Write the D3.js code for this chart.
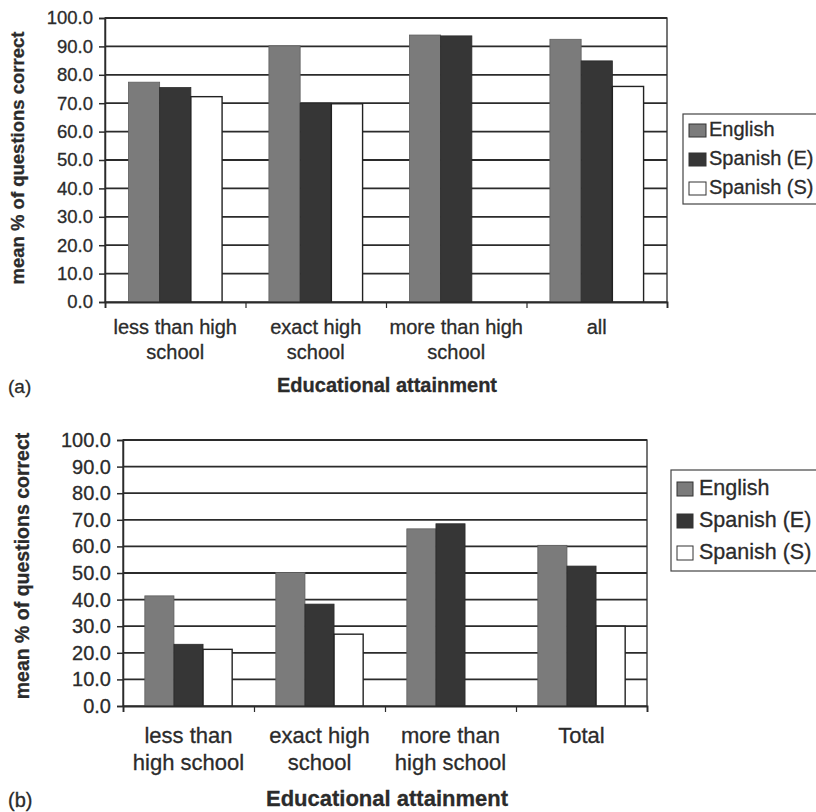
<!DOCTYPE html>
<html>
<head>
<meta charset="utf-8">
<script src="https://cdn.jsdelivr.net/npm/d3@7"></script>
<style>
  html, body { margin: 0; padding: 0; background: #fff; }
  svg { display: block; font-family: "Liberation Sans", Arial, Helvetica, sans-serif; }
  svg text { stroke: #2b2b2b; stroke-width: 0.3px; }
</style>
</head>
<body>
<svg id="chart" width="816" height="812"></svg>
<script>
// ---------- DATA ----------
const series = ["English", "Spanish (E)", "Spanish (S)"];
const yTicks = [0, 10, 20, 30, 40, 50, 60, 70, 80, 90, 100];

// Panel (a)
const categoriesA = [["less than high", "school"], ["exact high", "school"], ["more than high", "school"], ["all"]];
const englishA   = [77.4, 90.2, 94.0, 92.5];
const spanishEA  = [75.5, 70.0, 93.7, 84.9];
const spanishSA  = [72.3, 69.8, null, 75.9];

// Panel (b)
const categoriesB = [["less than", "high school"], ["exact high", "school"], ["more than", "high school"], ["Total"]];
const englishB   = [41.4, 50.2, 66.6, 60.4];
const spanishEB  = [23.2, 38.3, 68.5, 52.6];
const spanishSB  = [21.3, 27.0, null, 30.0];

const xTitle = "Educational attainment";
const yTitle = "mean % of questions correct";

// ---------- STYLE ----------
const fills = { "English": "#7b7b7b", "Spanish (E)": "#363636", "Spanish (S)": "#ffffff" };
const ink = "#2b2b2b";

const svg = d3.select("#chart");

function drawPanel(cfg) {
  const g = svg.append("g");
  const x = d3.scaleBand().domain(d3.range(cfg.categories.length)).range([cfg.left, cfg.right]).paddingInner(0).paddingOuter(0);
  const xs = d3.scaleBand().domain(series).range([0, x.bandwidth()]).paddingInner(0).paddingOuter(0.75);
  const y = d3.scaleLinear().domain([0, 100]).range([cfg.bottom, cfg.top]);

  g.append("rect").attr("x", cfg.left).attr("y", cfg.top)
    .attr("width", cfg.right - cfg.left).attr("height", cfg.bottom - cfg.top)
    .attr("fill", "#fff").attr("stroke", ink).attr("stroke-width", 1.3);

  g.selectAll(".grid").data(yTicks.filter(t => t > 0)).enter().append("line")
    .attr("x1", cfg.left).attr("x2", cfg.right)
    .attr("y1", d => y(d)).attr("y2", d => y(d))
    .attr("stroke", ink).attr("stroke-width", 1.8);

  const rows = cfg.categories.map((c, i) => ({ i, values: series.map((s, k) => ({ s, v: cfg.values[k][i] })) }));
  const grp = g.selectAll(".grp").data(rows).enter().append("g")
    .attr("transform", d => `translate(${x(d.i)},0)`);
  grp.selectAll("rect").data(d => d.values.filter(e => e.v !== null)).enter().append("rect")
    .attr("x", d => xs(d.s)).attr("width", xs.bandwidth())
    .attr("y", d => y(d.v)).attr("height", d => y(0) - y(d.v))
    .attr("fill", d => fills[d.s])
    .attr("stroke", d => d.s === "Spanish (S)" ? "#222" : (d.s === "English" ? "#5e5e5e" : "#2a2a2a"))
    .attr("stroke-width", d => d.s === "Spanish (S)" ? 1.4 : 0.8);

  const ya = d3.axisLeft(y).tickValues(yTicks).tickFormat(d3.format(".1f")).tickSize(6).tickPadding(6);
  const yg = g.append("g").attr("transform", `translate(${cfg.left},0)`).call(ya);
  yg.select(".domain").attr("stroke", ink).attr("stroke-width", 1.5);
  yg.selectAll(".tick line").attr("stroke", ink).attr("stroke-width", 1.5);
  yg.selectAll(".tick text").attr("fill", ink).style("font-size", cfg.tickSize + "px");

  const xa = d3.axisBottom(d3.scaleLinear().domain([0, cfg.categories.length]).range([cfg.left, cfg.right]))
    .tickValues(d3.range(cfg.categories.length + 1)).tickSize(6).tickFormat("");
  const xg = g.append("g").attr("transform", `translate(0,${cfg.bottom})`).call(xa);
  xg.select(".domain").attr("stroke", ink).attr("stroke-width", 1.8);
  xg.selectAll(".tick line").attr("stroke", ink).attr("stroke-width", 1.2);

  cfg.categories.forEach((lines, i) => {
    const t = g.append("text").attr("text-anchor", "middle").attr("fill", ink)
      .style("font-size", cfg.catSize + "px");
    lines.forEach((ln, j) => {
      t.append("tspan").attr("x", x(i) + x.bandwidth() / 2).attr("y", cfg.catY + j * cfg.catLine).text(ln);
    });
  });

  g.append("text").attr("x", cfg.xTitleX).attr("y", cfg.xTitleY).attr("text-anchor", "middle")
    .attr("fill", ink).style("font-weight", "bold").style("font-size", cfg.xTitleSize + "px").text(xTitle);
  g.append("text").attr("transform", `translate(${cfg.yTitleX},${cfg.yTitleY}) rotate(-90)`)
    .attr("text-anchor", "middle").attr("fill", ink).style("font-weight", "bold")
    .style("font-size", cfg.yTitleSize + "px").text(yTitle);

  g.append("text").attr("x", 8).attr("y", cfg.tagY).attr("fill", ink)
    .style("font-size", cfg.tagSize + "px").text(cfg.tag);

  const L = cfg.legend;
  g.append("rect").attr("x", L.x).attr("y", L.y).attr("width", L.w).attr("height", L.h)
    .attr("fill", "#fff").attr("stroke", "#444").attr("stroke-width", 1.2);
  series.forEach((s, k) => {
    const by = L.y0 + k * L.step;
    g.append("rect").attr("x", L.mx).attr("y", by - L.mh + 1).attr("width", L.mw).attr("height", L.mh)
      .attr("fill", fills[s]).attr("stroke", "#333").attr("stroke-width", 1);
    g.append("text").attr("x", L.tx).attr("y", by).attr("fill", ink)
      .style("font-size", L.size + "px").text(s);
  });
}

drawPanel({
  categories: categoriesA, values: [englishA, spanishEA, spanishSA],
  left: 105, right: 667, top: 18, bottom: 302,
  tickSize: 18.5, catSize: 20, catY: 334, catLine: 25,
  xTitleX: 387, xTitleY: 392, xTitleSize: 20, yTitleX: 24, yTitleY: 158, yTitleSize: 18.5,
  tag: "(a)", tagY: 393, tagSize: 19,
  legend: { x: 683, y: 114, w: 140, h: 90, mx: 689, mw: 17, mh: 13, tx: 709, y0: 136, step: 29, size: 20 }
});

drawPanel({
  categories: categoriesB, values: [englishB, spanishEB, spanishSB],
  left: 123, right: 647, top: 440, bottom: 706,
  tickSize: 20, catSize: 22, catY: 743, catLine: 27,
  xTitleX: 387, xTitleY: 806, xTitleSize: 22, yTitleX: 29, yTitleY: 566, yTitleSize: 19.5,
  tag: "(b)", tagY: 807, tagSize: 20,
  legend: { x: 671, y: 470, w: 150, h: 101, mx: 677, mw: 16, mh: 14, tx: 699, y0: 495, step: 32, size: 21.5 }
});
</script>
</body>
</html>
